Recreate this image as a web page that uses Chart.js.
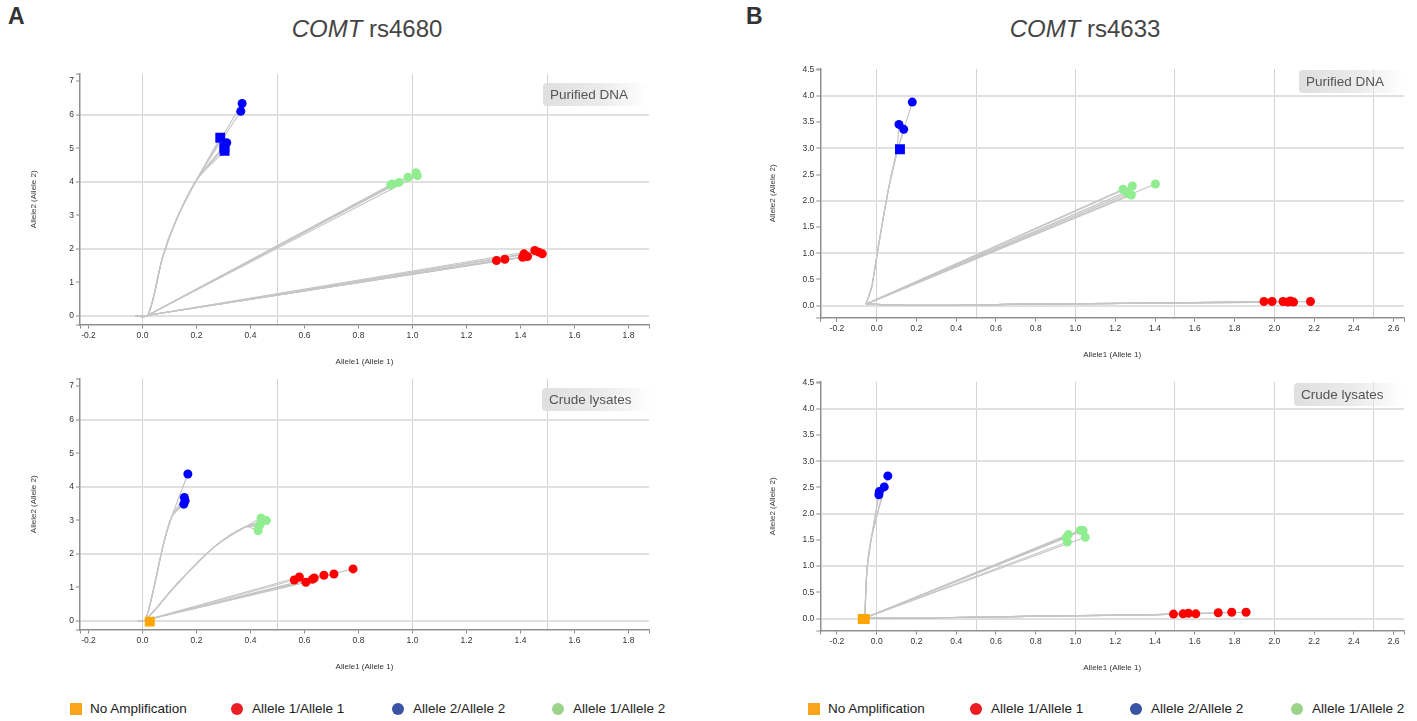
<!DOCTYPE html>
<html>
<head>
<meta charset="utf-8">
<script src="https://cdn.jsdelivr.net/npm/chart.js@4.4.1/dist/chart.umd.min.js"></script>
<style>
  body { margin: 0; background: #fff; font-family: "Liberation Sans", Arial, sans-serif; }
  #page { position: relative; width: 1417px; height: 721px; overflow: hidden; }
  canvas { position: absolute; }
  .letter { position: absolute; font-size: 23px; font-weight: bold; color: #333; line-height: 23px; }
  .title { position: absolute; width: 400px; text-align: center; font-size: 24px; color: #444; line-height: 24px; }
  .tag { position: absolute; height: 23px; line-height: 23px; padding-left: 7px; font-size: 13.5px; color: #555;
         border-radius: 4px; background: linear-gradient(to right, #dfdfdf 0%, #ebebeb 55%, rgba(255,255,255,0) 100%); }
  .legend { position: absolute; top: 701px; height: 16px; font-size: 13.5px; color: #222; }
  .item { position: absolute; top: 0; line-height: 16px; white-space: nowrap; }
  .mark { position: absolute; top: 2px; width: 12px; height: 12px; }
</style>
</head>
<body>
<div id="page">
  <div class="letter" style="left:8px;top:5px">A</div>
  <div class="letter" style="left:746px;top:5px">B</div>
  <div class="title" style="left:167px;top:17px"><i>COMT</i> rs4680</div>
  <div class="title" style="left:885px;top:17px"><i>COMT</i> rs4633</div>

  <canvas id="aTop" width="700" height="309" style="left:0;top:60px"></canvas>
  <canvas id="aBottom" width="700" height="309" style="left:0;top:365px"></canvas>
  <canvas id="bTop" width="677" height="307" style="left:740px;top:55px"></canvas>
  <canvas id="bBottom" width="677" height="307" style="left:740px;top:368px"></canvas>

  <div class="tag" style="left:543px;top:83px;width:98px">Purified DNA</div>
  <div class="tag" style="left:542px;top:388px;width:103px">Crude lysates</div>
  <div class="tag" style="left:1299px;top:70px;width:98px">Purified DNA</div>
  <div class="tag" style="left:1294px;top:383px;width:103px">Crude lysates</div>

  <div class="legend" id="legendA" style="left:70px"></div>
  <div class="legend" id="legendB" style="left:808px"></div>
</div>

<script>
Chart.defaults.font.family = '"Liberation Sans", Arial, sans-serif';

// axis ranges and ticks
const xRangeA = [-0.2315, 1.876];
const yRangeA = [-0.255, 7.21];
const xTicksA = [-0.2, 0, 0.2, 0.4, 0.6, 0.8, 1.0, 1.2, 1.4, 1.6, 1.8];
const xGridA = [0, 0.5, 1.0, 1.5];
const yTicksA = [0, 1, 2, 3, 4, 5, 6, 7];
const yGridA = [0, 2, 4, 6];

const xRangeB = [-0.2837, 2.6525];
const yRangeB = [-0.228, 4.51];
const xTicksB = [-0.2, 0, 0.2, 0.4, 0.6, 0.8, 1.0, 1.2, 1.4, 1.6, 1.8, 2.0, 2.2, 2.4, 2.6];
const xGridB = [0, 0.5, 1.0, 1.5, 2.0, 2.5];
const yTicksB = [0, 0.5, 1.0, 1.5, 2.0, 2.5, 3.0, 3.5, 4.0, 4.5];
const yGridB = [0, 1, 2, 3, 4];

// legend
const legendLabels = ['No Amplification', 'Allele 1/Allele 1', 'Allele 2/Allele 2', 'Allele 1/Allele 2'];
const legendColors = ['#f8a51b', '#ec1c24', '#3b53a4', '#9bd38a'];

// rs4680 purified DNA
const rs4680DnaRed = [[1.311, 1.65], [1.342, 1.69], [1.408, 1.75], [1.413, 1.85], [1.426, 1.77], [1.453, 1.95], [1.468, 1.90], [1.481, 1.85]];
const rs4680DnaGreen = [[0.919, 3.90], [0.925, 3.93], [0.950, 3.98], [0.983, 4.13], [1.013, 4.27], [1.018, 4.18]];
const rs4680DnaBlue = [[0.369, 6.33], [0.364, 6.10], [0.312, 5.16]];
const rs4680DnaBlueSq = [[0.288, 5.31], [0.304, 4.92], [0.303, 5.02]];
const rs4680DnaStart = [[-0.025, 0], [0.02, 0.02]];
const rs4680DnaBlueBend = [[0.075, 1.77], [0.125, 2.86], [0.2, 4.05]];

// rs4680 crude lysates
const rs4680LysRed = [[0.562, 1.22], [0.581, 1.31], [0.605, 1.15], [0.629, 1.24], [0.636, 1.28], [0.672, 1.36], [0.709, 1.40], [0.780, 1.55]];
const rs4680LysGreen = [[0.439, 3.07], [0.459, 2.99], [0.431, 2.81], [0.428, 2.69], [0.436, 2.88]];
const rs4680LysBlue = [[0.168, 4.38], [0.155, 3.68], [0.158, 3.58], [0.153, 3.48]];
const rs4680LysNoAmp = [[0.027, -0.02]];
const rs4680LysStart = [[-0.015, 0], [0.01, 0.02]];
const rs4680LysBlueBend = [[0.043, 1.02], [0.075, 2.2], [0.108, 3.1]];
const rs4680LysGreenBend = [[0.13, 1.12], [0.265, 2.2], [0.38, 2.8]];

// rs4633 purified DNA
const rs4633DnaRed = [[1.948, 0.08], [1.989, 0.08], [2.044, 0.08], [2.069, 0.07], [2.081, 0.09], [2.097, 0.07], [2.182, 0.08]];
const rs4633DnaGreen = [[1.402, 2.32], [1.239, 2.22], [1.286, 2.28], [1.264, 2.14], [1.281, 2.11], [1.256, 2.17]];
const rs4633DnaBlue = [[0.179, 3.88], [0.112, 3.455], [0.136, 3.36]];
const rs4633DnaBlueSq = [[0.117, 2.98]];
const rs4633DnaStart = [[-0.054, 0.03]];
const rs4633DnaBlueBend = [[-0.025, 0.36], [0.008, 1.12], [0.058, 2.2], [0.1, 2.9]];
const rs4633DnaRedBend = [[0.25, 0.005], [0.75, 0.03], [1.4, 0.05]];

// rs4633 crude lysates
const rs4633LysRed = [[1.493, 0.085], [1.541, 0.09], [1.568, 0.10], [1.605, 0.09], [1.718, 0.11], [1.786, 0.12], [1.858, 0.12]];
const rs4633LysGreen = [[0.964, 1.60], [0.953, 1.54], [0.959, 1.46], [1.024, 1.68], [1.038, 1.68], [1.049, 1.55]];
const rs4633LysBlue = [[0.056, 2.72], [0.038, 2.51], [0.013, 2.42], [0.011, 2.36]];
const rs4633LysNoAmp = [[-0.07, -0.01], [-0.06, -0.01]];
const rs4633LysStart = [[-0.06, 0.01]];
const rs4633LysBlueBend = [[-0.049, 0.92], [-0.026, 1.55]];
const rs4633LysRedBend = [[0.3, 0.015], [0.9, 0.05], [1.4, 0.075]];

const RED = '#ff0000', GREEN = '#90ee90', BLUE = '#0000ff', ORANGE = '#ffa500';

function pointSet(pts, color, style) {
  const r = style === 'rect' ? 7 : 4.5;
  return {
    data: pts.map(([x, y]) => ({ x, y })),
    backgroundColor: color, borderWidth: 0,
    pointStyle: style, pointRadius: r, pointHoverRadius: r, order: 0
  };
}

// one grey trace per called sample: start -> bends -> final point
function traceSets(start, bends, ends, tension) {
  return ends.map(e => ({
    data: [...start, ...bends, e].map(([x, y]) => ({ x, y })),
    showLine: true, fill: false, pointRadius: 0, pointHoverRadius: 0,
    borderColor: '#c6c6c6', borderWidth: 1.2, tension, order: 1
  }));
}

function buildScale(range, labels, grid, dec, isX, size, titlePad, titleText) {
  const [min, max] = range;
  const near = (a, b) => Math.abs(a - b) < 1e-6;
  const has = (arr, v) => arr.some(a => near(a, v));
  const clear = 'rgba(0,0,0,0)';
  return {
    type: 'linear', position: isX ? 'bottom' : 'left', min, max,
    afterBuildTicks: sc => {
      const vals = [min, max, ...labels, ...grid].sort((a, b) => a - b);
      sc.ticks = vals.filter((v, i) => i === 0 || !near(v, vals[i - 1])).map(value => ({ value }));
    },
    afterFit: sc => { if (isX) sc.height = size; else sc.width = size; },
    ticks: {
      autoSkip: false, maxRotation: 0, minRotation: 0, padding: 2, color: '#333',
      font: { size: 8.5 },
      callback: v => has(labels, v) ? Number(v).toFixed(dec) : ''
    },
    grid: {
      color: c => c.tick && has(grid, c.tick.value) ? (isX ? '#d2d2d2' : '#e0e0e0') : clear,
      lineWidth: isX ? 1 : 2,
      tickLength: 4,
      tickWidth: 1,
      tickColor: c => c.tick && (has(labels, c.tick.value) || near(c.tick.value, min) || near(c.tick.value, max)) ? '#8a8a8a' : clear
    },
    border: { color: '#8f8f8f', width: 1.5 },
    title: {
      display: true, text: titleText, color: '#333', font: { size: 8 },
      padding: isX ? { top: 0, bottom: titlePad } : { top: titlePad, bottom: 0 }
    }
  };
}

function makeChart(id, s) {
  new Chart(document.getElementById(id), {
    type: 'scatter',
    data: { datasets: s.datasets },
    options: {
      responsive: false, animation: false, events: [],
      layout: { padding: { top: 14, right: s.padRight, left: 0, bottom: 0 } },
      plugins: { legend: { display: false }, tooltip: { enabled: false } },
      scales: {
        x: buildScale(s.xRange, s.xTicks, s.xGrid, 1, true, s.xHeight, 2.7, 'Allele1 (Allele 1)'),
        y: buildScale(s.yRange, s.yTicks, s.yGrid, s.yDec, false, s.yWidth, s.yTitlePad, 'Allele2 (Allele 2)')
      }
    }
  });
}

makeChart('aTop', {
  xRange: xRangeA, yRange: yRangeA, xTicks: xTicksA, xGrid: xGridA, yTicks: yTicksA, yGrid: yGridA, yDec: 0,
  xHeight: 44.5, yWidth: 80, padRight: 51, yTitlePad: 29,
  datasets: [
    pointSet(rs4680DnaRed, RED, 'circle'),
    pointSet(rs4680DnaGreen, GREEN, 'circle'),
    pointSet(rs4680DnaBlue, BLUE, 'circle'),
    pointSet(rs4680DnaBlueSq, BLUE, 'rect'),
    ...traceSets(rs4680DnaStart, [], rs4680DnaRed, 0),
    ...traceSets(rs4680DnaStart, [], rs4680DnaGreen, 0),
    ...traceSets(rs4680DnaStart, rs4680DnaBlueBend, rs4680DnaBlue.concat(rs4680DnaBlueSq), 0.3)
  ]
});

makeChart('aBottom', {
  xRange: xRangeA, yRange: yRangeA, xTicks: xTicksA, xGrid: xGridA, yTicks: yTicksA, yGrid: yGridA, yDec: 0,
  xHeight: 44.5, yWidth: 80, padRight: 51, yTitlePad: 29,
  datasets: [
    pointSet(rs4680LysNoAmp, ORANGE, 'rect'),
    pointSet(rs4680LysRed, RED, 'circle'),
    pointSet(rs4680LysGreen, GREEN, 'circle'),
    pointSet(rs4680LysBlue, BLUE, 'circle'),
    ...traceSets(rs4680LysStart, [], rs4680LysRed, 0),
    ...traceSets(rs4680LysStart, rs4680LysGreenBend, rs4680LysGreen, 0.3),
    ...traceSets(rs4680LysStart, rs4680LysBlueBend, rs4680LysBlue, 0.3)
  ]
});

makeChart('bTop', {
  xRange: xRangeB, yRange: yRangeB, xTicks: xTicksB, xGrid: xGridB, yTicks: yTicksB, yGrid: yGridB, yDec: 1,
  xHeight: 44.3, yWidth: 80.3, padRight: 13, yTitlePad: 28,
  datasets: [
    pointSet(rs4633DnaRed, RED, 'circle'),
    pointSet(rs4633DnaGreen, GREEN, 'circle'),
    pointSet(rs4633DnaBlue, BLUE, 'circle'),
    pointSet(rs4633DnaBlueSq, BLUE, 'rect'),
    ...traceSets(rs4633DnaStart, rs4633DnaRedBend, rs4633DnaRed, 0.4),
    ...traceSets(rs4633DnaStart, [], rs4633DnaGreen, 0),
    ...traceSets(rs4633DnaStart, rs4633DnaBlueBend, rs4633DnaBlue.concat(rs4633DnaBlueSq), 0.2)
  ]
});

makeChart('bBottom', {
  xRange: xRangeB, yRange: yRangeB, xTicks: xTicksB, xGrid: xGridB, yTicks: yTicksB, yGrid: yGridB, yDec: 1,
  xHeight: 44.5, yWidth: 80.3, padRight: 13, yTitlePad: 28,
  datasets: [
    pointSet(rs4633LysNoAmp, ORANGE, 'rect'),
    pointSet(rs4633LysRed, RED, 'circle'),
    pointSet(rs4633LysGreen, GREEN, 'circle'),
    pointSet(rs4633LysBlue, BLUE, 'circle'),
    ...traceSets(rs4633LysStart, rs4633LysRedBend, rs4633LysRed, 0.4),
    ...traceSets(rs4633LysStart, [], rs4633LysGreen, 0),
    ...traceSets(rs4633LysStart, rs4633LysBlueBend, rs4633LysBlue, 0.2)
  ]
});

// shared legends under each column
function fillLegend(id, offsets) {
  const box = document.getElementById(id);
  legendLabels.forEach((label, i) => {
    const item = document.createElement('div');
    item.className = 'item';
    item.style.left = offsets[i] + 'px';
    const mark = document.createElement('span');
    mark.className = 'mark';
    mark.style.left = '0px';
    mark.style.background = legendColors[i];
    if (i > 0) mark.style.borderRadius = '50%';
    const text = document.createElement('span');
    text.textContent = label;
    text.style.marginLeft = (i === 0 ? 20 : 21) + 'px';
    item.appendChild(mark);
    item.appendChild(text);
    box.appendChild(item);
  });
}
fillLegend('legendA', [0, 161, 322, 482]);
fillLegend('legendB', [0, 162, 322, 483]);
</script>
</body>
</html>
